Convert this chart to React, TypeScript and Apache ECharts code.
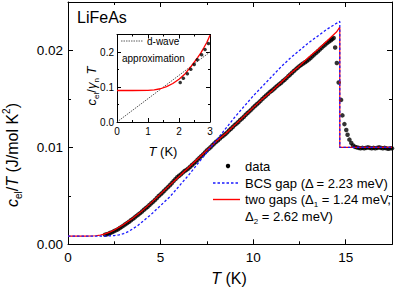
import React, { useEffect, useRef } from 'react';
import * as echarts from 'echarts';

const FONT = '"Liberation Sans", Arial, Helvetica, sans-serif';

// ---- main panel data: c_el/T (J/mol K^2) vs T (K) ----
const measuredData: [number, number][] = [
  [2.0, 0.00098], [2.1, 0.00103], [2.2, 0.0011], [2.3, 0.00119], [2.4, 0.00126], [2.5, 0.00137],
  [2.6, 0.00146], [2.7, 0.00156], [2.8, 0.00168], [2.9, 0.0018], [3.0, 0.00193], [3.1, 0.00207],
  [3.2, 0.0022], [3.3, 0.00233], [3.4, 0.00248], [3.5, 0.00262], [3.6, 0.00277], [3.7, 0.00293],
  [3.8, 0.00307], [3.9, 0.00322], [4.0, 0.00339], [4.1, 0.00356], [4.2, 0.00372], [4.3, 0.00388],
  [4.4, 0.00405], [4.5, 0.00424], [4.6, 0.0044], [4.7, 0.00458], [4.8, 0.00478], [4.9, 0.00498],
  [5.0, 0.00515], [5.1, 0.00533], [5.2, 0.00552], [5.3, 0.00572], [5.4, 0.0059], [5.5, 0.0061],
  [5.6, 0.0063], [5.7, 0.00652], [5.8, 0.00672], [5.9, 0.00692], [6.0, 0.00708], [6.1, 0.00722],
  [6.2, 0.0074], [6.3, 0.00756], [6.4, 0.00768], [6.5, 0.00782], [6.6, 0.008], [6.7, 0.00818],
  [6.8, 0.00835], [6.9, 0.00852], [7.0, 0.00872], [7.1, 0.00892], [7.2, 0.0091], [7.3, 0.00928],
  [7.4, 0.00948], [7.5, 0.00968], [7.6, 0.00985], [7.7, 0.01002], [7.8, 0.01022], [7.9, 0.0104],
  [8.0, 0.01058], [8.1, 0.01072], [8.2, 0.0109], [8.3, 0.01108], [8.4, 0.01122], [8.5, 0.01138],
  [8.6, 0.01155], [8.7, 0.01175], [8.8, 0.01192], [8.9, 0.0121], [9.0, 0.0123], [9.1, 0.01245],
  [9.2, 0.01262], [9.3, 0.01282], [9.4, 0.01298], [9.5, 0.01316], [9.6, 0.01336], [9.7, 0.01355],
  [9.8, 0.01372], [9.9, 0.0139], [10.0, 0.0141], [10.1, 0.01428], [10.2, 0.01445], [10.3, 0.01462],
  [10.4, 0.0148], [10.5, 0.015], [10.6, 0.01518], [10.7, 0.01535], [10.8, 0.01552], [10.9, 0.0157],
  [11.0, 0.01585], [11.1, 0.016], [11.2, 0.01618], [11.3, 0.01635], [11.4, 0.0165], [11.5, 0.01665],
  [11.6, 0.01682], [11.7, 0.01698], [11.8, 0.01715], [11.9, 0.01735], [12.0, 0.01752], [12.1, 0.0177],
  [12.2, 0.01788], [12.3, 0.01805], [12.4, 0.01822], [12.5, 0.01838], [12.6, 0.01852], [12.7, 0.01865],
  [12.8, 0.01878], [12.9, 0.0189], [13.0, 0.01905], [13.1, 0.01922], [13.2, 0.0194], [13.3, 0.01958],
  [13.4, 0.01975], [13.5, 0.01992], [13.6, 0.0201], [13.7, 0.02028], [13.8, 0.02045], [13.9, 0.02062],
  [14.0, 0.02078], [14.1, 0.02092], [14.2, 0.02105], [14.27, 0.02118], [14.35, 0.02128], [14.43, 0.0203],
  [14.52, 0.0187], [14.62, 0.0167], [14.75, 0.0149], [14.82, 0.0133], [14.93, 0.0124], [15.03, 0.0118],
  [15.1, 0.0113], [15.2, 0.0108], [15.3, 0.01045], [15.4, 0.0102], [15.5, 0.01005], [15.6, 0.01],
  [15.7, 0.00995], [15.8, 0.0099], [15.9, 0.00995], [16.0, 0.0099], [16.1, 0.00995], [16.2, 0.01],
  [16.3, 0.00995], [16.4, 0.0099], [16.5, 0.00995], [16.6, 0.0099], [16.7, 0.00995], [16.8, 0.01],
  [16.9, 0.00995], [17.0, 0.0099], [17.1, 0.00995], [17.2, 0.0099], [17.3, 0.00985], [17.4, 0.0099],
  [17.5, 0.0099],
];

const twoGapFit: [number, number][] = [
  [0, 0.00085], [1.0, 0.00085], [1.5, 0.00088], [1.75, 0.00095], [2.0, 0.00108], [2.25, 0.00125],
  [2.5, 0.00148], [2.75, 0.00175], [3.0, 0.00205], [3.25, 0.00237], [3.5, 0.0027], [3.75, 0.00307],
  [4.0, 0.00345], [4.5, 0.0043], [5.0, 0.0052], [5.5, 0.0061], [6.0, 0.007], [6.5, 0.0079],
  [7.0, 0.0088], [7.5, 0.0097], [8.0, 0.0106], [8.5, 0.0114], [9.0, 0.0123], [9.5, 0.0132],
  [10.0, 0.0141], [10.5, 0.015], [11.0, 0.0158], [11.5, 0.0167], [12.0, 0.0176], [12.5, 0.0184],
  [13.0, 0.0193], [13.5, 0.0201], [14.0, 0.021], [14.5, 0.0219], [14.68, 0.0224], [14.68, 0.01],
  [17.5, 0.01],
];

const bcsFit: [number, number][] = [
  [0, 0.00085], [2.0, 0.00085], [2.5, 0.0009], [2.75, 0.00098], [3.0, 0.0011], [3.25, 0.0013],
  [3.5, 0.0016], [3.75, 0.0019], [4.0, 0.0023], [4.5, 0.0031], [5.0, 0.004], [5.5, 0.0049],
  [6.0, 0.006], [6.5, 0.0071], [7.0, 0.0083], [7.5, 0.0095], [8.0, 0.0107], [8.5, 0.0119],
  [9.0, 0.0131], [9.5, 0.0142], [10.0, 0.0153], [10.5, 0.0163], [11.0, 0.0173], [11.5, 0.0183],
  [12.0, 0.0192], [12.5, 0.02], [13.0, 0.0208], [13.5, 0.0215], [14.0, 0.0222], [14.5, 0.0228],
  [14.68, 0.023], [14.68, 0.01], [17.5, 0.01],
];

// ---- inset data: c_el/(gamma_n T) vs T (K) ----
const insetData: [number, number][] = [
  [2.04, 0.113], [2.14, 0.125], [2.27, 0.138], [2.38, 0.151], [2.49, 0.164],
  [2.59, 0.178], [2.73, 0.192], [2.84, 0.207], [2.95, 0.224],
];
const insetTwoGap: [number, number][] = [
  [0, 0.09], [0.5, 0.09], [1.0, 0.0905], [1.2, 0.092], [1.4, 0.095], [1.6, 0.101], [1.8, 0.11],
  [2.0, 0.122], [2.2, 0.138], [2.4, 0.16], [2.6, 0.184], [2.7, 0.197], [2.8, 0.212], [2.9, 0.228],
  [3.0, 0.248],
];
const insetDWave: [number, number][] = [[0, 0], [3, 0.2]];

// ---- tick labels ----
const mainXTicks = [0, 5, 10, 15];
const mainXTickLabels = ['0', '5', '10', '15'];
const mainYTicks = [0, 0.01, 0.02];
const mainYTickLabels = ['0.00', '0.01', '0.02'];
const insetXTicks = [0, 1, 2, 3];
const insetXTickLabels = ['0', '1', '2', '3'];
const insetYTicks = [0, 0.1, 0.2];
const insetYTickLabels = ['0.0', '0.1', '0.2'];

function fmtFrom(ticks: number[], labels: string[]) {
  return (v: number) => {
    const i = ticks.findIndex((t) => Math.abs(t - v) < 1e-9);
    return i >= 0 ? labels[i] : '';
  };
}

function axisSet(
  dim: 'x' | 'y', gridIndex: number, min: number, max: number, major: number, minor: number,
  majorLen: number, minorLen: number, fontSize: number, margin: number,
  fmt: (v: number) => string,
) {
  const positions = dim === 'x' ? ['bottom', 'top'] : ['left', 'right'];
  const res: any[] = [];
  positions.forEach((p, i) => {
    [major, minor].forEach((iv, j) => {
      res.push({
        type: 'value', gridIndex, position: p, min, max, interval: iv,
        axisLine: { show: j === 0, onZero: false, lineStyle: { color: '#000', width: 1 } },
        axisTick: { show: true, inside: true, length: j === 0 ? majorLen : minorLen, lineStyle: { color: '#000', width: 1 } },
        axisLabel: {
          show: i === 0 && j === 0, color: '#000', fontSize, fontFamily: FONT, margin,
          formatter: fmt, showMinLabel: true, showMaxLabel: true,
        },
        splitLine: { show: false },
        minorTick: { show: false },
      });
    });
  });
  return res;
}

const baseRich = (size: number, lh: number) => ({
  n: { fontSize: size, fontFamily: FONT, color: '#000', lineHeight: lh },
  i: { fontSize: size, fontFamily: FONT, color: '#000', fontStyle: 'italic', lineHeight: lh },
  sub: { fontSize: Math.round(size * 0.65), fontFamily: FONT, color: '#000', verticalAlign: 'bottom', lineHeight: Math.round(size * 0.65) },
  sup: { fontSize: Math.round(size * 0.65), fontFamily: FONT, color: '#000', verticalAlign: 'top', lineHeight: Math.round(size * 0.65) },
});

function textEl(x: number, y: number, text: string, size: number, lh: number, opts: any = {}) {
  return {
    type: 'text', x, y, rotation: opts.rotation || 0, z: 100,
    style: {
      text, fontSize: size, fontFamily: FONT, fill: '#000',
      align: opts.align || 'left', verticalAlign: 'middle', rich: baseRich(size, lh),
    },
  };
}

export default function App() {
  const ref = useRef<HTMLDivElement>(null);
  useEffect(() => {
    document.body.style.margin = '0';
    if (!ref.current) return;
    const chart = echarts.init(ref.current, undefined, { renderer: 'svg' });

    const xAxes = [
      ...axisSet('x', 0, 0, 17.5, 5, 2.5, 5, 3, 13.5, 6, fmtFrom(mainXTicks, mainXTickLabels)),
      ...axisSet('x', 1, 0, 3, 1, 0.5, 4, 2, 10, 4, fmtFrom(insetXTicks, insetXTickLabels)),
    ];
    const yAxes = [
      ...axisSet('y', 0, 0, 0.025, 0.01, 0.005, 5, 3, 13.5, 5, fmtFrom(mainYTicks, mainYTickLabels)),
      ...axisSet('y', 1, 0, 0.25, 0.1, 0.05, 4, 2, 10, 3, fmtFrom(insetYTicks, insetYTickLabels)),
    ];

    chart.setOption({
      animation: false,
      backgroundColor: '#fff',
      grid: [
        { left: 68, top: 2, width: 325, height: 242.3, containLabel: false },
        { left: 117, top: 34.5, width: 93, height: 87.5, containLabel: false },
      ],
      xAxis: xAxes,
      yAxis: yAxes,
      series: [
        {
          name: 'data', type: 'scatter', xAxisIndex: 0, yAxisIndex: 0, data: measuredData,
          symbol: 'circle', symbolSize: 4.5, itemStyle: { color: '#000' }, z: 2,
        },
        {
          name: 'two gaps', type: 'line', xAxisIndex: 0, yAxisIndex: 0, data: twoGapFit,
          showSymbol: false, symbol: 'none', lineStyle: { color: '#ff0000', width: 1.2 }, z: 3,
        },
        {
          name: 'BCS gap', type: 'line', xAxisIndex: 0, yAxisIndex: 0, data: bcsFit,
          showSymbol: false, symbol: 'none', lineStyle: { color: '#1a1aff', width: 1.3, type: [2.5, 2] }, z: 4,
        },
        {
          name: 'd-wave approximation', type: 'line', xAxisIndex: 4, yAxisIndex: 4, data: insetDWave,
          showSymbol: false, symbol: 'none', lineStyle: { color: '#333', width: 0.8, type: [1.5, 1] }, z: 5,
        },
        {
          name: 'inset two gaps', type: 'line', xAxisIndex: 4, yAxisIndex: 4, data: insetTwoGap,
          showSymbol: false, symbol: 'none', lineStyle: { color: '#ff0000', width: 1.3 }, z: 6,
        },
        {
          name: 'inset data', type: 'scatter', xAxisIndex: 4, yAxisIndex: 4, data: insetData,
          symbol: 'circle', symbolSize: 3.5, itemStyle: { color: '#000' }, z: 7,
        },
      ],
      graphic: [
        textEl(77, 17, 'LiFeAs', 16, 18),
        textEl(229, 278, '{i|T}{n| (K)}', 16, 20, { align: 'center' }),
        textEl(12, 155, '{i|c}{sub|el}{n|/}{i|T}{n| (J/mol K}{sup|2}{n|)}', 16, 22, { align: 'center', rotation: Math.PI / 2 }),
        textEl(163, 151.5, '{i|T}{n| (K)}', 13, 16, { align: 'center' }),
        textEl(91, 86, '{i|c}{sub|el}{n|/}{i|γ}{sub|n}{n| }{i|T}', 13, 18, { align: 'center', rotation: Math.PI / 2 }),
        // inset legend
        {
          type: 'line', z: 100, shape: { x1: 121, y1: 41, x2: 143, y2: 41 },
          style: { stroke: '#333', lineWidth: 0.8, lineDash: [1.5, 1] },
        },
        textEl(147, 41, '{n|d-wave}', 10, 12),
        textEl(122, 58, '{n|approximation}', 10, 12),
        // main legend
        { type: 'circle', z: 100, shape: { cx: 228, cy: 166, r: 2.2 }, style: { fill: '#000' } },
        textEl(245, 166, '{n|data}', 13, 16),
        {
          type: 'line', z: 100, shape: { x1: 213, y1: 183, x2: 240, y2: 183 },
          style: { stroke: '#1a1aff', lineWidth: 1.3, lineDash: [2.5, 2] },
        },
        textEl(245, 183, '{n|BCS gap (Δ = 2.23 meV)}', 13, 16),
        {
          type: 'line', z: 100, shape: { x1: 213, y1: 199.5, x2: 240, y2: 199.5 },
          style: { stroke: '#ff0000', lineWidth: 1.4 },
        },
        textEl(245, 199.5, '{n|two gaps (Δ}{sub|1}{n| = 1.24 meV,}', 13, 18),
        textEl(245, 216, '{n|Δ}{sub|2}{n| = 2.62 meV)}', 13, 18),
      ],
    });
    return () => chart.dispose();
  }, []);
  return <div ref={ref} style={{ position: 'absolute', left: 0, top: 0, width: 395, height: 290 }} />;
}
